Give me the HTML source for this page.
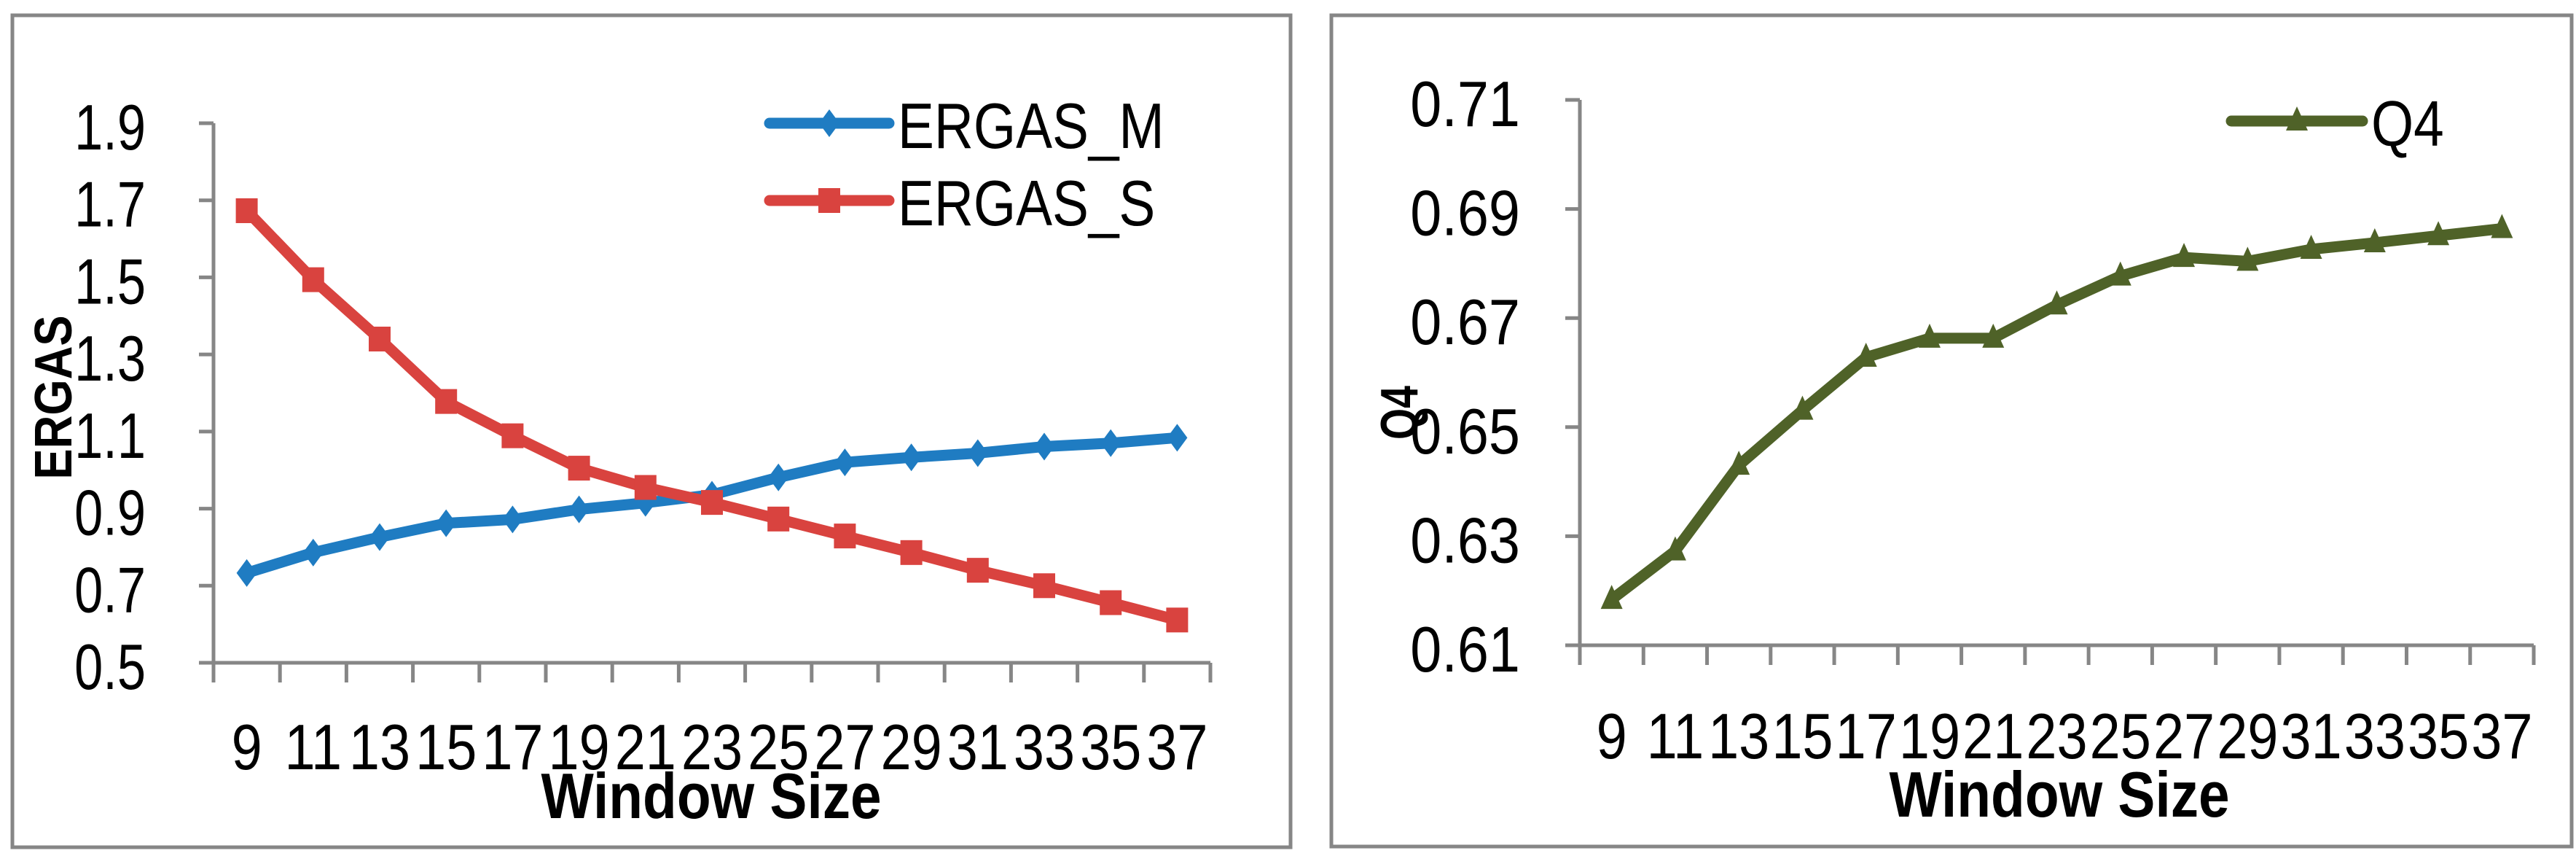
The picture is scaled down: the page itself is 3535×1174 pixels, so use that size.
<!DOCTYPE html>
<html><head><meta charset="utf-8"><style>
html,body{margin:0;padding:0;background:#fff;}
svg{display:block;font-family:"Liberation Sans",sans-serif;}
</style></head><body>
<svg id="c" width="3535" height="1174" viewBox="0 0 3535 1174">
<rect x="17" y="21" width="1754" height="1141" fill="#fff" stroke="#868686" stroke-width="5"/>
<rect x="1827" y="21" width="1702" height="1140" fill="#fff" stroke="#868686" stroke-width="5"/>
<g id="left"></g>
<g id="right"></g>
</svg>
<script>
const categories = [9,11,13,15,17,19,21,23,25,27,29,31,33,35,37];
const ergasM = [0.733,0.786,0.826,0.862,0.872,0.898,0.915,0.936,0.981,1.020,1.033,1.044,1.061,1.070,1.084];
const ergasS = [1.673,1.494,1.340,1.178,1.089,1.005,0.955,0.916,0.873,0.829,0.786,0.740,0.700,0.656,0.611];
const q4 = [0.6184,0.6273,0.643,0.6531,0.6628,0.6663,0.6663,0.6724,0.6777,0.6811,0.6804,0.6826,0.6838,0.6851,0.6864];
const leftTicks = [0.5,0.7,0.9,1.1,1.3,1.5,1.7,1.9];
const rightTicks = [0.61,0.63,0.65,0.67,0.69,0.71];

const NS="http://www.w3.org/2000/svg";
function mk(parent,tag,attrs,text){const e=document.createElementNS(NS,tag);for(const k in attrs)e.setAttribute(k,attrs[k]);if(text!==undefined)e.textContent=text;parent.appendChild(e);return e;}
function txt(parent,x,y,str,size,anchor,sx,bold,rot){
  let tr=`translate(${x},${y})`+(rot?' rotate(-90)':'')+` scale(${sx},1)`;
  const a={x:0,y:0,'text-anchor':anchor,'font-size':size,fill:'#000',transform:tr};
  if(bold)a['font-weight']='bold';
  return mk(parent,'text',a,str);
}

function drawChart(g,cfg){
  const {x0,x1,yTop,yBot,min,max,ticks,dec,labelRight,ylabel,ylabX,ylabY,ylabSx,titleX,titleY,tickLabY,ySx}=cfg;
  const step=(x1-x0)/categories.length;
  const xs=i=>x0+step*(i+0.5);
  const ys=v=>yBot-(v-min)/(max-min)*(yBot-yTop);
  mk(g,'line',{x1:x0,y1:yTop,x2:x0,y2:yBot,stroke:'#868686','stroke-width':5});
  mk(g,'line',{x1:x0,y1:yBot,x2:x1,y2:yBot,stroke:'#868686','stroke-width':5});
  ticks.forEach(t=>{
    mk(g,'line',{x1:x0-20,y1:ys(t),x2:x0,y2:ys(t),stroke:'#868686','stroke-width':5});
    const tl=txt(g,labelRight,ys(t)+36,t.toFixed(dec),88,'end',ySx,false,false);
    
    
  });
  for(let i=0;i<=categories.length;i++){
    mk(g,'line',{x1:x0+step*i,y1:yBot,x2:x0+step*i,y2:yBot+27,stroke:'#868686','stroke-width':5});
  }
  categories.forEach((c,i)=>{
    const tl=txt(g,xs(i),tickLabY,String(c),88,'middle',0.86,false,false);
    
    
  });
  const yl=txt(g,ylabX,ylabY,ylabel,72,'middle',ylabSx,true,true);
  
  
  const xt=txt(g,titleX,titleY,'Window Size',88,'middle',0.87,true,false);
  
  
  return {xs,ys};
}
function series(g,a,vals,color,marker,name){
  const pts=vals.map((v,i)=>[a.xs(i),a.ys(v)]);
  const pl=mk(g,'polyline',{points:pts.map(p=>p.join(',')).join(' '),fill:'none',stroke:color,'stroke-width':15,'stroke-linejoin':'round','stroke-linecap':'round'});
  
  
  pts.forEach(p=>{const m=marker(g,p[0],p[1],color);});
}
const diamond=(g,x,y,c)=>mk(g,'polygon',{points:`${x},${y-19} ${x+14},${y} ${x},${y+19} ${x-14},${y}`,fill:c});
const square=(g,x,y,c)=>mk(g,'rect',{x:x-15,y:y-17,width:30,height:34,fill:c});
const tri=(g,x,y,c)=>mk(g,'polygon',{points:`${x},${y-20} ${x+15},${y+13} ${x-15},${y+13}`,fill:c});
function legend(g,x1,x2,y,color,marker,label,name){
  const lg=mk(g,'g',{});
  
  
  mk(lg,'line',{x1:x1,y1:y,x2:x2,y2:y,stroke:color,'stroke-width':15,'stroke-linecap':'round'});
  marker(lg,(x1+x2)/2,y,color);
  txt(lg,x2+12,y+34,label,88,'start',0.85,false,false);
}

const L=document.getElementById('left');
const la=drawChart(L,{x0:293,x1:1661,yTop:169,yBot:909,min:0.5,max:1.9,ticks:leftTicks,dec:1,labelRight:200,ySx:0.8,ylabel:'ERGAS',ylabX:98,ylabY:545,ylabSx:0.88,titleX:976,titleY:1122,tickLabY:1055});
series(L,la,ergasM,'#1f7cc2',diamond,'ergas-m');
series(L,la,ergasS,'#d9433f',square,'ergas-s');
legend(L,1056,1220,169,'#1f7cc2',diamond,'ERGAS_M','ergas-m');
legend(L,1056,1220,275,'#d9433f',square,'ERGAS_S','ergas-s');

const R=document.getElementById('right');
const ra=drawChart(R,{x0:2168,x1:3477,yTop:137,yBot:885,min:0.61,max:0.71,ticks:rightTicks,dec:2,labelRight:2086,ySx:0.88,ylabel:'Q4',ylabX:1945,ylabY:566,ylabSx:0.77,titleX:2826,titleY:1120,tickLabY:1040});
series(R,ra,q4,'#4f6228',tri,'q4');
legend(R,3062,3242,166,'#4f6228',tri,'Q4','q4');
</script>
</body></html>
